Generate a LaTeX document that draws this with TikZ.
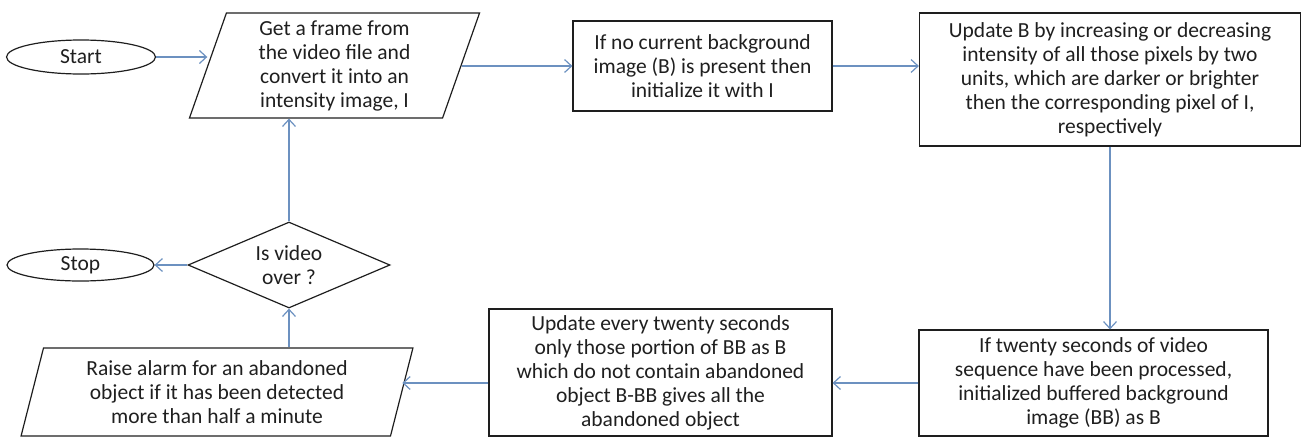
\documentclass[tikz,border=0pt]{standalone}
\usepackage{fontspec}
\setmainfont{Carlito}
\usetikzlibrary{shapes.geometric,arrows.meta}
\definecolor{arr}{RGB}{108,145,192}
\definecolor{edge}{RGB}{30,30,30}
\tikzset{
 base/.style={draw=edge, line width=1.2pt, align=center, text=black!88, font=\fontsize{21.5}{24}\selectfont, inner sep=0pt},
 term/.style={base, ellipse},
 boxnode/.style={base, rectangle},
 io/.style={base, trapezium, trapezium stretches=true},
 dec/.style={base, diamond, aspect=2.35},
 conn/.style={draw=arr, line width=1.2pt, -{Straight Barb[length=7pt,width=13pt]}},
}
\begin{document}
\begin{tikzpicture}[x=1pt,y=-1pt]
\useasboundingbox (0,0) rectangle (1302,437);
\node[term, minimum width=149pt, minimum height=34pt] (start) at (81,57) {Start};
\node[io, trapezium left angle=74, trapezium right angle=106, minimum width=291pt, minimum height=105pt] (p1) at (334.5,65.5)
  {Get a frame from\\the video file and\\convert it into an\\intensity image, I};
\node[boxnode, minimum width=259pt, minimum height=90pt] (b2) at (702.5,66)
  {If no current background\\image (B) is present then\\initialize it with I};
\node[boxnode, minimum width=381pt, minimum height=133pt] (b3) at (1110,79.5)
  {Update B by increasing or decreasing\\intensity of all those pixels by two\\units, which are darker or brighter\\then the corresponding pixel of I,\\respectively};
\node[boxnode, minimum width=349pt, minimum height=106pt] (b4) at (1093.5,383)
  {If twenty seconds of video\\sequence have been processed,\\initialized buffered background\\image (BB) as B};
\node[boxnode, minimum width=343pt, minimum height=127pt] (b5) at (660.5,372.5)
  {Update every twenty seconds\\only those portion of BB as B\\which do not contain abandoned\\object B-BB gives all the\\abandoned object};
\node[io, trapezium left angle=75, trapezium right angle=105, minimum width=392pt, minimum height=88pt] (p2) at (217,392)
  {Raise alarm for an abandoned\\object if it has been detected\\more than half a minute};
\node[dec, minimum width=202pt, minimum height=86pt] (d) at (289,265) {Is video\\over ?};
\node[term, minimum width=147pt, minimum height=32pt] (stop) at (80.5,265) {Stop};

\draw[conn] (start.east) -- (start.east -| p1.west);
\draw[conn] (p1.east |- b2.west) -- (b2.west);
\draw[conn] (b2.east) -- (b2.east -| b3.west);
\draw[conn] (b3.south) -- (b3.south |- b4.north);
\draw[conn] (b4.west) -- (b4.west -| b5.east);
\draw[conn] (b5.west |- b4.west) -- (p2.east |- b4.west);
\draw[conn] (d.south |- p2.north) -- (d.south);
\draw[conn] (d.west) -- (stop.east);
\draw[conn] (d.north) -- (d.north |- p1.south);
\end{tikzpicture}
\end{document}
